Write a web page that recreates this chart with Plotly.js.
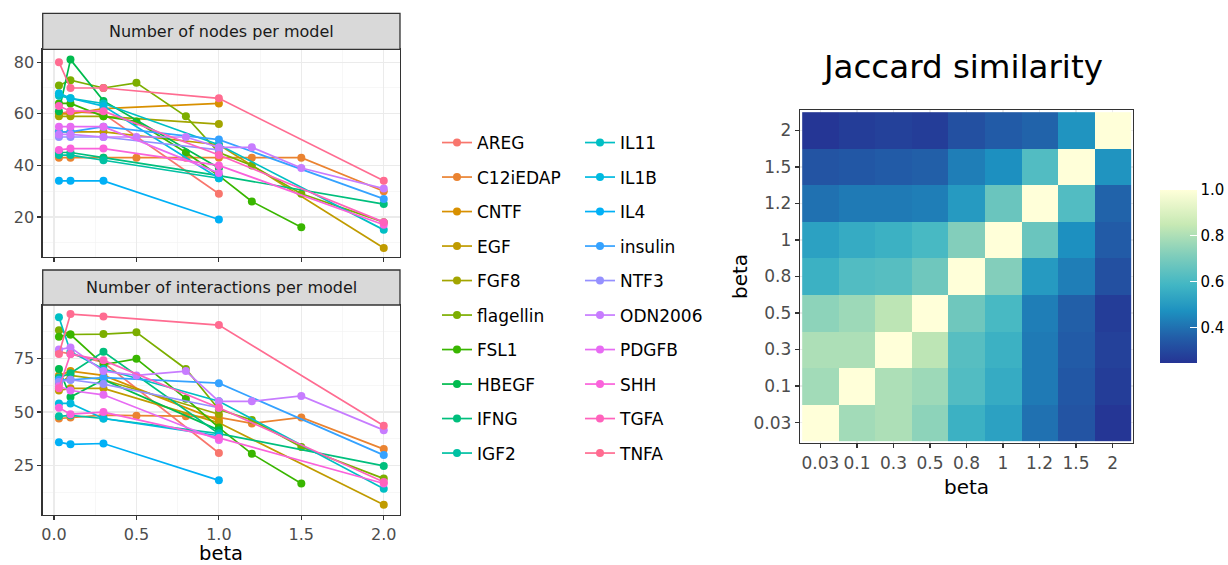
<!DOCTYPE html>
<html>
<head>
<meta charset="utf-8">
<script src="https://cdn.plot.ly/plotly-3.0.1.min.js"></script>
<style>html,body{margin:0;padding:0;background:#fff;}#chart{width:1228px;height:565px;}</style>
</head>
<body>
<div id="chart"></div>
<script>
// ---------- data ----------
const ligands = ["AREG","C12iEDAP","CNTF","EGF","FGF8","flagellin","FSL1","HBEGF","IFNG","IGF2",
                 "IL11","IL1B","IL4","insulin","NTF3","ODN2006","PDGFB","SHH","TGFA","TNFA"];
const ligandColors = ["#F8766D","#EA8331","#D89000","#C09B00","#A3A500","#7CAE00","#39B600","#00BB4E","#00BF7D","#00C1A3",
                      "#00BFC4","#00BAE0","#00B0F6","#35A2FF","#9590FF","#C77CFF","#E76BF3","#FA62DB","#FF62BC","#FF6C91"];
const allBeta = [0.03,0.1,0.3,0.5,0.8,1,1.2,1.5,2];
const shortBeta = [0.03,0.1,0.3,1];
const shortBeta2 = [0.03,0.1,0.3,1,2];
const fsl1Beta = [0.03,0.1,0.3,0.5,0.8,1,1.2,1.5];
const betaSets = [shortBeta, allBeta, shortBeta, shortBeta2, shortBeta, allBeta, fsl1Beta, shortBeta, shortBeta2, shortBeta,
                  shortBeta2, shortBeta, shortBeta, shortBeta2, shortBeta, allBeta, shortBeta, shortBeta2, shortBeta2, shortBeta2];
const nodeCounts = [
  [60,61,60,29],
  [43,43,43,43,43,43,43,43,30],
  [60,60,62,64],
  [53,53,53,48,8],
  [59,59,59,56],
  [71,73,70,72,59,45,40,29,18],
  [64,64,59,57,45,36,26,16],
  [61,81,65,39],
  [45,45,43,36,25],
  [44,44,42,35],
  [67,66,64,48,15],
  [68,66,63,35],
  [34,34,34,19],
  [53,53,55,50,27],
  [51,51,51,46],
  [52,52,51,51,51,47,47,39,31],
  [55,55,55,37],
  [46,46.5,46.5,40,17],
  [63,61,61,44,18],
  [80,70,70,66,34]
];
const interactionCounts = [
  [78,77,73,31],
  [47,47.5,48.6,48.3,48.1,47.5,44.7,47.5,32.8],
  [67,69,67,46],
  [60,61,61,45,7],
  [63,67,65,49],
  [88,86,86.2,87,70,51.2,46.3,33.8,19.1],
  [85,86,72,74.7,56.2,42.8,30.6,16.8],
  [70,57,65,41.6],
  [66,68,78,40,25],
  [48,48.5,47,40],
  [94,78,70,55,14.4],
  [54,54,47,39],
  [36,35,35.4,18.3],
  [65,65,66,63.4,30],
  [64,65,63,52],
  [79,80,69,67,69,55,55,57.5,41.6],
  [62,60,58,37],
  [52,49,50,38,16.8],
  [61,77,74,52,17.5],
  [77,95.5,94.4,90.4,43.6]
];
const jaccardLabels = ["0.03","0.1","0.3","0.5","0.8","1","1.2","1.5","2"];
const jaccard = [
  [1.00,0.78,0.80,0.74,0.57,0.52,0.40,0.33,0.25],
  [0.78,1.00,0.80,0.77,0.62,0.55,0.42,0.34,0.27],
  [0.80,0.80,1.00,0.83,0.63,0.57,0.42,0.35,0.28],
  [0.74,0.77,0.83,1.00,0.68,0.60,0.43,0.36,0.27],
  [0.57,0.62,0.63,0.68,1.00,0.72,0.50,0.43,0.32],
  [0.52,0.55,0.57,0.60,0.72,1.00,0.67,0.47,0.35],
  [0.40,0.42,0.42,0.43,0.50,0.67,1.00,0.62,0.37],
  [0.33,0.34,0.35,0.36,0.43,0.47,0.62,1.00,0.48],
  [0.25,0.27,0.28,0.27,0.32,0.35,0.37,0.48,1.00]
];
const colorbarTicks = [0.4,0.6,0.8,1.0];

// ---------- geometry helpers (pixels -> paper) ----------
const W = 1228, H = 565;
const px = v => v / W;
const py = v => 1 - v / H;
const FONT = "DejaVu Sans, Liberation Sans, Arial, sans-serif";

const traces = [];
ligands.forEach((name, i) => {
  const leg = i < 10 ? "legend" : "legend2";
  const common = {
    type: "scatter", mode: "lines+markers", name: name,
    legendgroup: name, legend: leg,
    line: {color: ligandColors[i], width: 1.7},
    marker: {color: ligandColors[i], size: 8}
  };
  traces.push(Object.assign({}, common, {x: betaSets[i], y: nodeCounts[i], xaxis: "x", yaxis: "y", showlegend: true}));
  traces.push(Object.assign({}, common, {x: betaSets[i], y: interactionCounts[i], xaxis: "x2", yaxis: "y2", showlegend: false}));
});

traces.push({
  type: "heatmap", x: jaccardLabels, y: jaccardLabels, z: jaccard,
  xaxis: "x3", yaxis: "y3", zmin: 0.245, zmax: 1.0, showlegend: false,
  colorscale: [[0,"#253494"],[0.15,"#225EA8"],[0.3,"#1D91C0"],[0.45,"#41B6C4"],[0.62,"#7FCDBB"],[0.8,"#C7E9B4"],[1,"#FFFFD9"]],
  colorbar: {
    x: px(1160), xanchor: "left", y: py(276.5), yanchor: "middle",
    thickness: 37, thicknessmode: "pixels", len: 173, lenmode: "pixels",
    xpad: 0, ypad: 0, outlinewidth: 0,
    tickvals: colorbarTicks, ticktext: colorbarTicks.map(v => v.toFixed(1)),
    ticks: "inside", ticklen: 7, tickcolor: "#ffffff", tickwidth: 1,
    tickfont: {size: 15, color: "#000000", family: FONT}
  }
});

const gridC = "#EBEBEB";
const axisFrame = {showline: true, mirror: true, linecolor: "#333333", linewidth: 1.3, zeroline: false,
                   ticks: "outside", ticklen: 4, tickcolor: "#333333", tickwidth: 1.1, automargin: false,
                   tickfont: {size: 16, color: "#4D4D4D"}, gridcolor: gridC, gridwidth: 1.1};

const leftX = [px(42.7), px(400)];
const layout = {
  width: W, height: H,
  margin: {l: 0, r: 0, t: 0, b: 0, autoexpand: false},
  paper_bgcolor: "#ffffff", plot_bgcolor: "#ffffff",
  font: {family: FONT, color: "#000000"},
  showlegend: true,
  xaxis: Object.assign({}, axisFrame, {domain: leftX, anchor: "y", range: [-0.0685, 2.0985], dtick: 0.5, tick0: 0,
          showticklabels: false, minor: {dtick: 0.25, showgrid: true, gridcolor: "#F2F2F2", gridwidth: 0.6}}),
  yaxis: Object.assign({}, axisFrame, {domain: [py(256.7), py(49.3)], anchor: "x", range: [4.6, 85.0], dtick: 20, tick0: 0,
          minor: {dtick: 10, showgrid: true, gridcolor: "#F2F2F2", gridwidth: 0.6}}),
  xaxis2: Object.assign({}, axisFrame, {domain: leftX, anchor: "y2", range: [-0.0685, 2.0985], dtick: 0.5, tick0: 0,
          tickformat: ".1f",
          minor: {dtick: 0.25, showgrid: true, gridcolor: "#F2F2F2", gridwidth: 0.6}}),
  yaxis2: Object.assign({}, axisFrame, {domain: [py(515), py(305)], anchor: "x2", range: [2.2, 99.7], dtick: 25, tick0: 0,
          minor: {dtick: 12.5, showgrid: true, gridcolor: "#F2F2F2", gridwidth: 0.6}}),
  xaxis3: Object.assign({}, axisFrame, {domain: [px(800), px(1133)], anchor: "y3", type: "category", range: [-0.56, 8.56],
          tickfont: {size: 17, color: "#4D4D4D"},
          title: {text: "beta", font: {size: 20, color: "#000000"}, standoff: 8}}),
  yaxis3: Object.assign({}, axisFrame, {domain: [py(443), py(110)], anchor: "x3", type: "category", range: [-0.56, 8.56],
          tickfont: {size: 17, color: "#4D4D4D"},
          title: {text: "beta", font: {size: 20, color: "#000000"}, standoff: 0}}),
  legend: {x: px(437), xanchor: "left", y: py(125), yanchor: "top", orientation: "v",
           traceorder: "grouped", tracegroupgap: 9.4, font: {size: 17, color: "#000000"},
           bgcolor: "rgba(0,0,0,0)", borderwidth: 0, itemwidth: 30},
  legend2: {x: px(580), xanchor: "left", y: py(125), yanchor: "top", orientation: "v",
           traceorder: "grouped", tracegroupgap: 9.4, font: {size: 17, color: "#000000"},
           bgcolor: "rgba(0,0,0,0)", borderwidth: 0, itemwidth: 30},
  shapes: [
    {type: "rect", xref: "paper", yref: "paper", x0: px(42.7), x1: px(400), y0: py(49.3), y1: py(13.3),
     fillcolor: "#D9D9D9", line: {color: "#333333", width: 1.3}},
    {type: "rect", xref: "paper", yref: "paper", x0: px(42.7), x1: px(400), y0: py(305), y1: py(270),
     fillcolor: "#D9D9D9", line: {color: "#333333", width: 1.3}}
  ],
  annotations: [
    {text: "Number of nodes per model", xref: "paper", yref: "paper", x: px(221.3), y: py(31.3),
     xanchor: "center", yanchor: "middle", showarrow: false, font: {size: 16, color: "#1A1A1A"}},
    {text: "Number of interactions per model", xref: "paper", yref: "paper", x: px(221.3), y: py(287.5),
     xanchor: "center", yanchor: "middle", showarrow: false, font: {size: 16, color: "#1A1A1A"}},
    {text: "beta", xref: "paper", yref: "paper", x: px(221.3), y: py(553), borderpad: 0,
     xanchor: "center", yanchor: "middle", showarrow: false, font: {size: 19.5, color: "#000000"}},
    {text: "Jaccard similarity", xref: "paper", yref: "paper", x: px(962), y: py(67),
     xanchor: "center", yanchor: "middle", showarrow: false, font: {size: 32.5, color: "#000000"}}
  ]
};

Plotly.newPlot("chart", traces, layout, {staticPlot: true, displayModeBar: false});
</script>
</body>
</html>
